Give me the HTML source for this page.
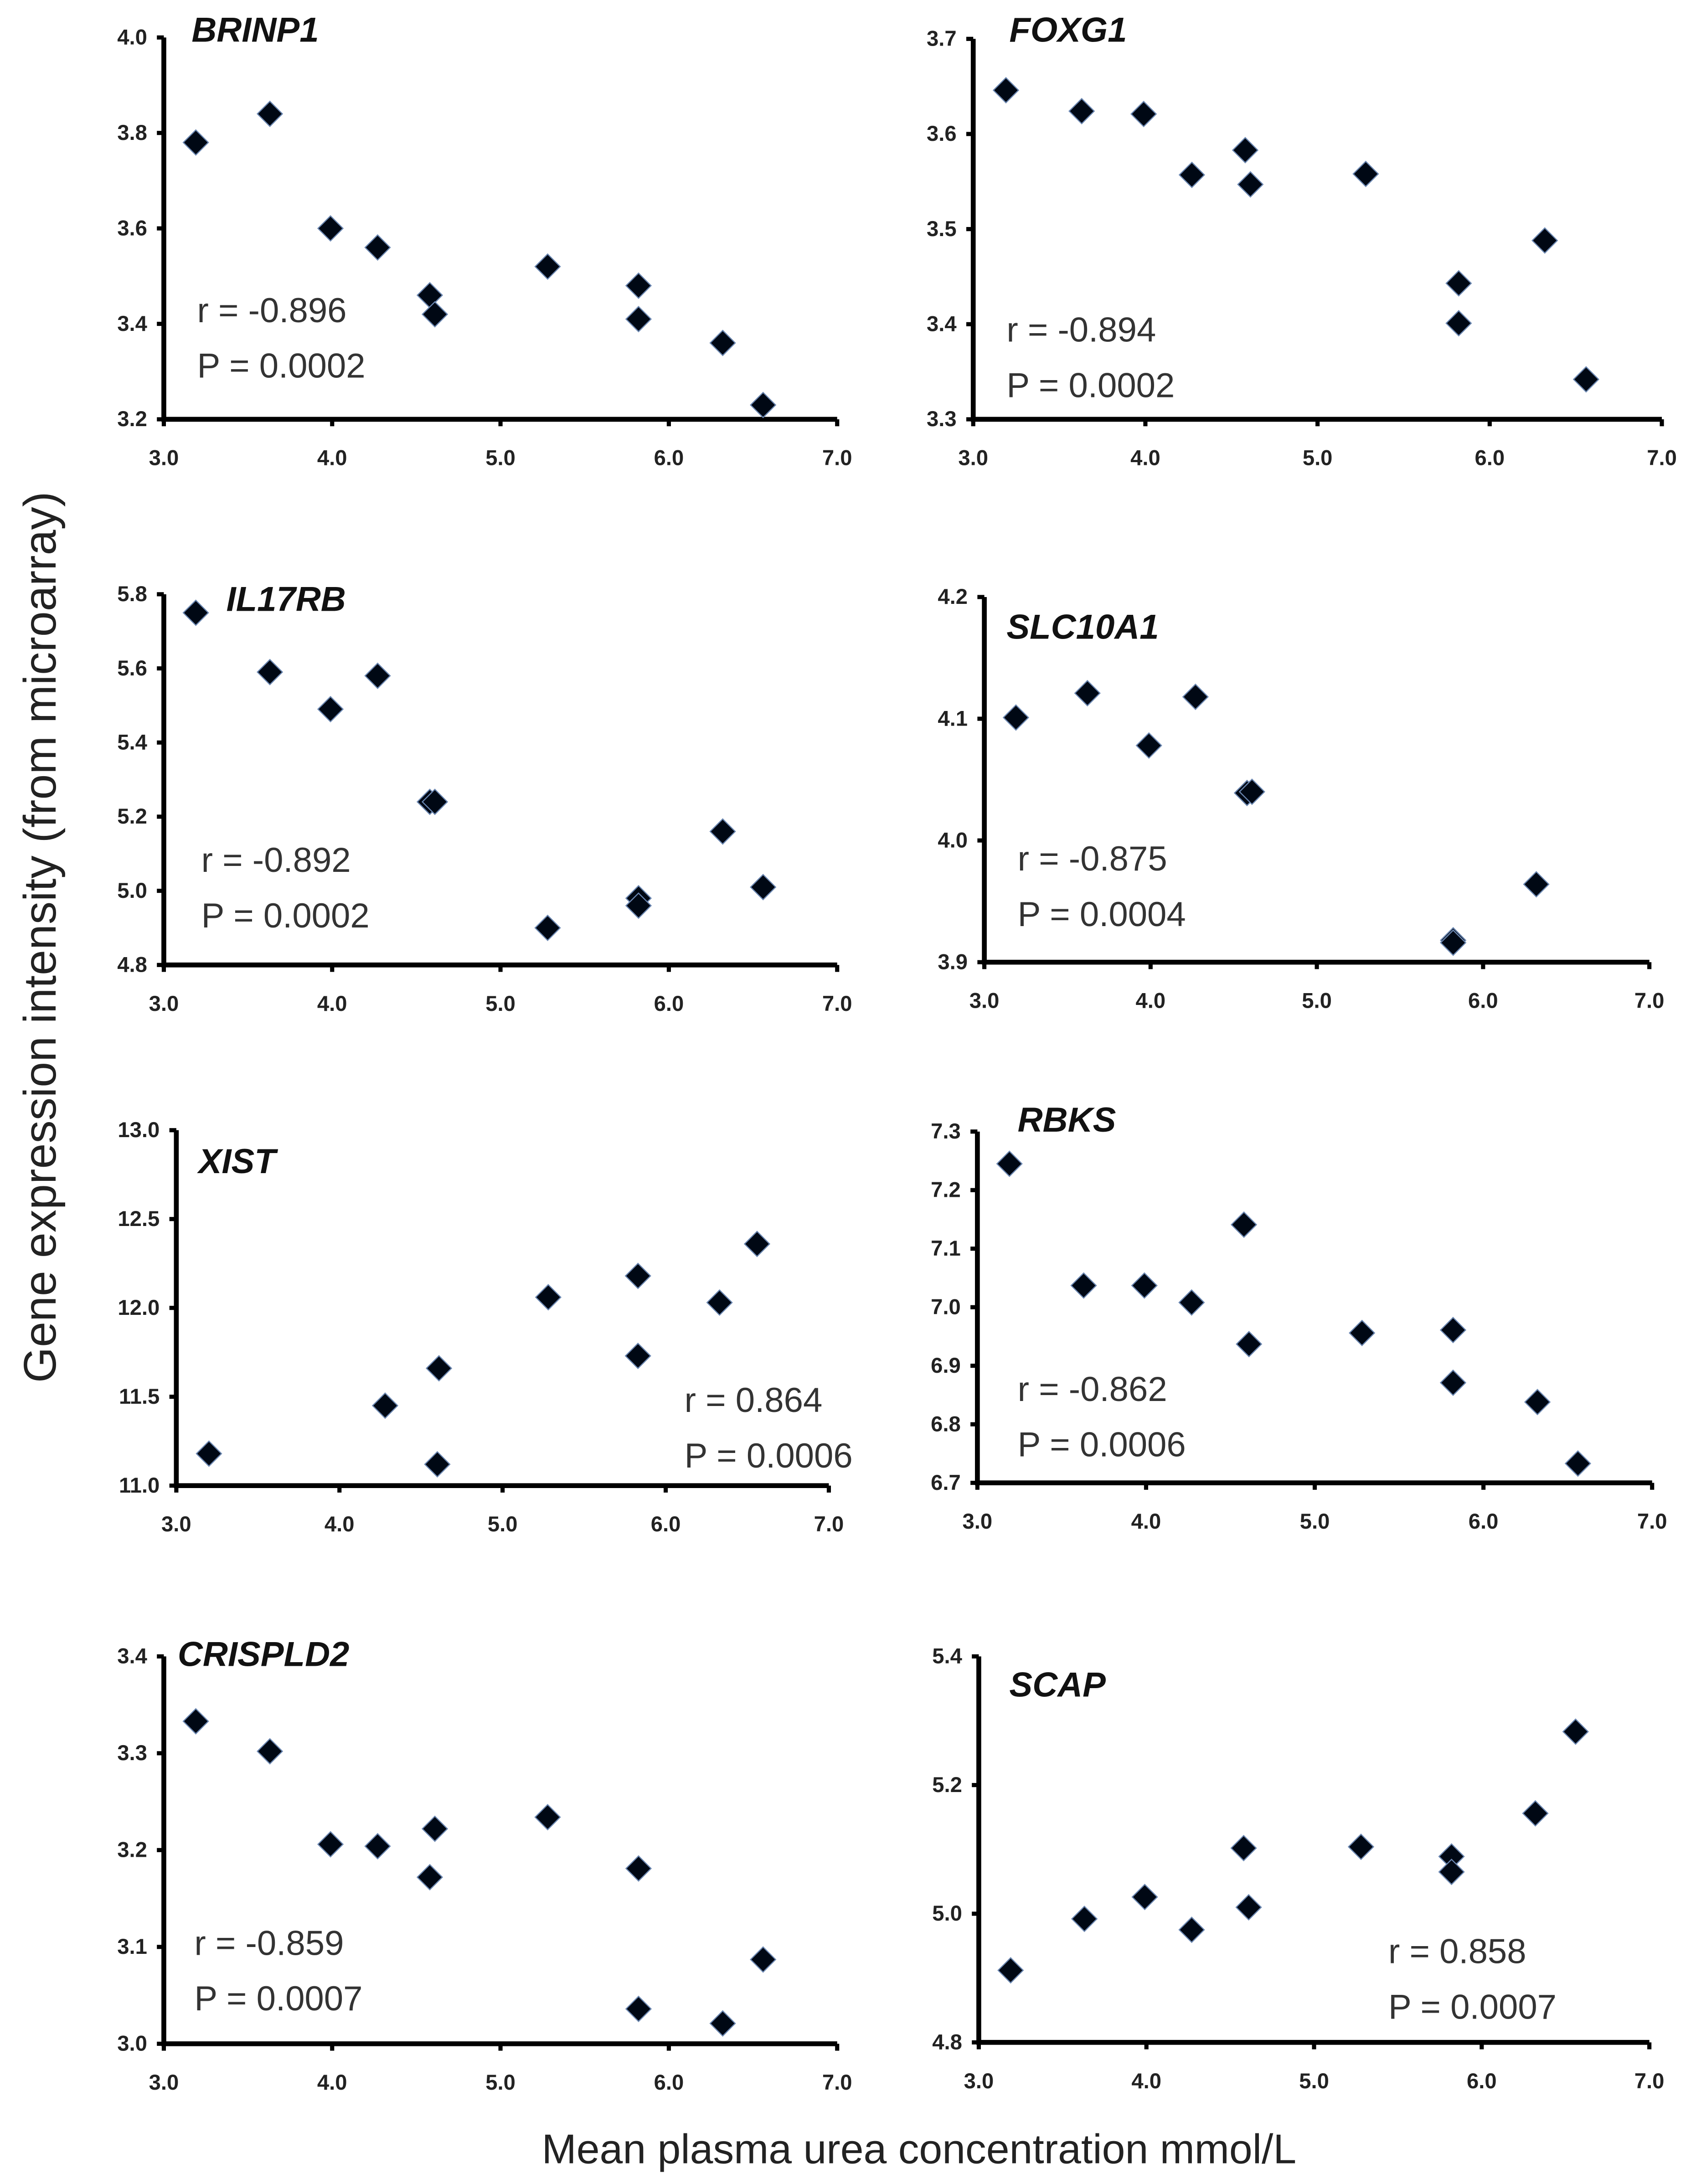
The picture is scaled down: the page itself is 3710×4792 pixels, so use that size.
<!DOCTYPE html>
<html><head><meta charset="utf-8"><style>
html,body{margin:0;padding:0;background:#fff;}
svg{display:block;}
text{font-family:"Liberation Sans",sans-serif;}
</style></head><body>
<svg id="fig" width="3710" height="4792" viewBox="0 0 1218 1573" preserveAspectRatio="none" xmlns="http://www.w3.org/2000/svg">
<defs><clipPath id="foxclip"><rect x="660" y="0" width="600" height="340"/></clipPath></defs>
<text x="0" y="0" transform="translate(40,675) rotate(-90)" text-anchor="middle" font-size="33" fill="#222">Gene expression intensity (from microarray)</text>
<text x="662" y="1558" text-anchor="middle" font-size="30" fill="#222">Mean plasma urea concentration mmol/L</text>
</svg>
<script>
const svgNS="http://www.w3.org/2000/svg";
const fig=document.getElementById('fig');
const xTicks=[3,4,5,6,7];
const genes=["BRINP1","FOXG1","IL17RB","SLC10A1","XIST","RBKS","CRISPLD2","SCAP"];
const xBRINP1=[3.19,3.63,3.99,4.27,4.58,4.61,5.28,5.82,5.82,6.32,6.56];
const yBRINP1=[3.78,3.84,3.60,3.56,3.46,3.42,3.52,3.48,3.41,3.36,3.23];
const xFOXG1=[3.19,3.63,3.99,4.27,4.58,4.61,5.28,5.82,5.82,6.32,6.56];
const yFOXG1=[3.646,3.624,3.621,3.557,3.583,3.547,3.558,3.443,3.401,3.488,3.342];
const xIL17RB=[3.19,3.63,3.99,4.27,4.58,4.61,5.28,5.82,5.82,6.32,6.56];
const yIL17RB=[5.75,5.59,5.49,5.58,5.24,5.24,4.90,4.98,4.96,5.16,5.01];
const xSLC10A1=[3.19,3.62,3.99,4.27,4.58,4.61,5.82,5.82,6.32];
const ySLC10A1=[4.101,4.121,4.078,4.118,4.039,4.040,3.918,3.916,3.964];
const xXIST=[3.20,4.28,4.61,4.60,5.28,5.83,5.83,6.33,6.56];
const yXIST=[11.18,11.45,11.66,11.12,12.06,12.18,11.73,12.03,12.36];
const xRBKS=[3.19,3.63,3.99,4.27,4.58,4.61,5.28,5.82,5.82,6.32,6.56];
const yRBKS=[7.245,7.037,7.037,7.008,7.141,6.937,6.956,6.961,6.871,6.838,6.733];
const xCRISPLD2=[3.19,3.63,3.99,4.27,4.61,4.58,5.28,5.82,5.82,6.32,6.56];
const yCRISPLD2=[3.333,3.302,3.206,3.204,3.222,3.172,3.234,3.181,3.036,3.021,3.087];
const xSCAP=[3.19,3.63,3.99,4.27,4.58,4.61,5.28,5.82,5.82,6.32,6.56];
const ySCAP=[4.912,4.992,5.026,4.975,5.102,5.010,5.104,5.089,5.065,5.156,5.283];
const yTicksBRINP1=[3.2,3.4,3.6,3.8,4.0];
const yTicksFOXG1=[3.3,3.4,3.5,3.6,3.7];
const yTicksIL17RB=[4.8,5.0,5.2,5.4,5.6,5.8];
const yTicksSLC10A1=[3.9,4.0,4.1,4.2];
const yTicksXIST=[11.0,11.5,12.0,12.5,13.0];
const yTicksRBKS=[6.7,6.8,6.9,7.0,7.1,7.2,7.3];
const yTicksCRISPLD2=[3.0,3.1,3.2,3.3,3.4];
const yTicksSCAP=[4.8,5.0,5.2,5.4];
const rLabels=["r = -0.896","r = -0.894","r = -0.892","r = -0.875","r = 0.864","r = -0.862","r = -0.859","r = 0.858"];
const pLabels=["P = 0.0002","P = 0.0002","P = 0.0002","P = 0.0004","P = 0.0006","P = 0.0006","P = 0.0007","P = 0.0007"];
const xs=[xBRINP1,xFOXG1,xIL17RB,xSLC10A1,xXIST,xRBKS,xCRISPLD2,xSCAP];
const ys=[yBRINP1,yFOXG1,yIL17RB,ySLC10A1,yXIST,yRBKS,yCRISPLD2,ySCAP];
const yts=[yTicksBRINP1,yTicksFOXG1,yTicksIL17RB,yTicksSLC10A1,yTicksXIST,yTicksRBKS,yTicksCRISPLD2,yTicksSCAP];
const layout=[
[118,603,27,302,138,30,142,232],
[701,1197,28,302,727,30,725,246],
[118,603,428,695,163,440,145,628],
[709,1188,430,693,725,460,733,627],
[127,597,814,1070,143,845,493,1017],
[704,1190,815,1068,733,815,733,1009],
[118,603,1193,1472,128,1200,140,1408],
[705,1188,1193,1471,727,1222,1000,1414]];
function el(tag,attrs,parent){const e=document.createElementNS(svgNS,tag);for(const k in attrs)e.setAttribute(k,attrs[k]);(parent||fig).appendChild(e);return e;}
genes.forEach((g,i)=>{
  const L=layout[i];const yt=yts[i];
  const ymin=yt[0],ymax=yt[yt.length-1];
  const sx=v=>L[0]+(v-3)/(7-3)*(L[1]-L[0]);
  const sy=v=>L[3]-(v-ymin)/(ymax-ymin)*(L[3]-L[2]);
  const grp=el('g',{});
  
  
  if(g==="FOXG1") grp.setAttribute('clip-path','url(#foxclip)');
  const ax=el('path',{d:`M${L[0]} ${L[2]} V${L[3]} H${L[1]}`,stroke:'#000','stroke-width':3.5,fill:'none'},grp);
  
  
  yt.forEach(v=>{
    el('line',{x1:L[0]-5,x2:L[0],y1:sy(v),y2:sy(v),stroke:'#000','stroke-width':3},grp);
    const t=el('text',{x:L[0]-12,y:sy(v)+5,'text-anchor':'end','font-size':15.5,'font-weight':'bold',fill:'#222'},grp);
    t.textContent=v.toFixed(1);
    
    
  });
  xTicks.forEach(v=>{
    el('line',{x1:sx(v),x2:sx(v),y1:L[3],y2:L[3]+5,stroke:'#000','stroke-width':3},grp);
    const t=el('text',{x:sx(v),y:L[3]+33,'text-anchor':'middle','font-size':15.5,'font-weight':'bold',fill:'#222'},grp);
    t.textContent=v.toFixed(1);
    
    
  });
  const ti=el('text',{x:L[4],y:L[5],'font-size':25,'font-weight':'bold','font-style':'italic',fill:'#111'},grp);
  ti.textContent=g;
  
  
  const r=el('text',{x:L[6],y:L[7],'font-size':25,fill:'#333'},grp);
  r.textContent=rLabels[i];
  
  
  const p=el('text',{x:L[6],y:L[7]+40,'font-size':25,fill:'#333'},grp);
  p.textContent=pLabels[i];
  
  
  xs[i].forEach((xv,j)=>{
    const cx=sx(xv),cy=sy(ys[i][j]),h=9;
    const m=el('path',{d:`M${cx} ${cy-h} L${cx+h} ${cy} L${cx} ${cy+h} L${cx-h} ${cy} Z`,fill:'#000814',stroke:'#6a86b0','stroke-width':0.8},grp);
    
    
  });
});
</script>
</body></html>
